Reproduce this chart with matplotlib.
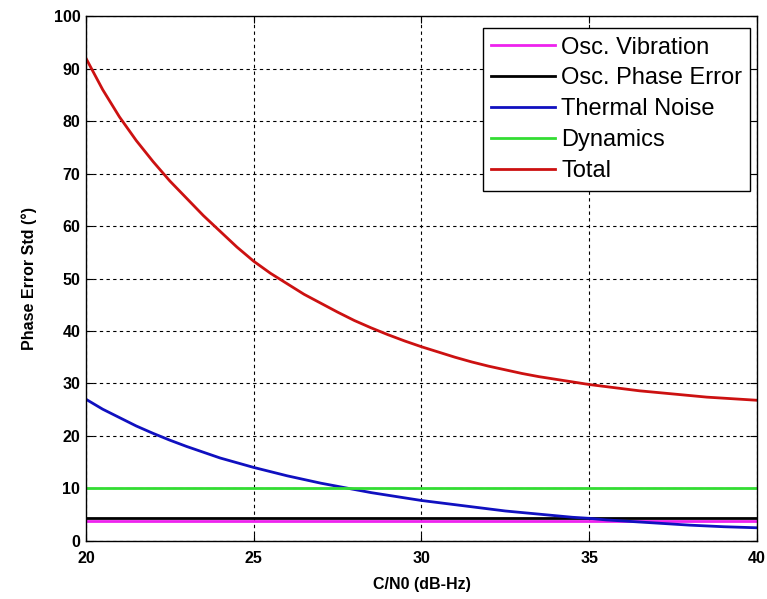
import matplotlib
matplotlib.use("Agg")
import matplotlib.pyplot as plt

# C/N0 values (dB-Hz), half-dB steps
cn0 = [20.0, 20.5, 21.0, 21.5, 22.0, 22.5, 23.0, 23.5, 24.0, 24.5, 25.0,
       25.5, 26.0, 26.5, 27.0, 27.5, 28.0, 28.5, 29.0, 29.5, 30.0,
       30.5, 31.0, 31.5, 32.0, 32.5, 33.0, 33.5, 34.0, 34.5, 35.0,
       35.5, 36.0, 36.5, 37.0, 37.5, 38.0, 38.5, 39.0, 39.5, 40.0]

# phase error std components (deg)
osc_vibration = [3.8] * len(cn0)
osc_phase_error = [4.3] * len(cn0)
thermal_noise = [27.0, 25.1, 23.5, 21.9, 20.5, 19.2, 18.0, 16.9, 15.8, 14.9, 14.0,
                 13.2, 12.4, 11.7, 11.0, 10.4, 9.8, 9.2, 8.7, 8.2, 7.7,
                 7.3, 6.9, 6.5, 6.1, 5.7, 5.4, 5.1, 4.8, 4.5, 4.3,
                 4.0, 3.8, 3.6, 3.4, 3.2, 3.0, 2.85, 2.7, 2.6, 2.5]
dynamics = [10.0] * len(cn0)
total = [92.0, 86.0, 80.8, 76.3, 72.3, 68.6, 65.3, 62.0, 59.0, 56.0, 53.3,
         51.0, 49.0, 47.0, 45.3, 43.6, 42.0, 40.6, 39.3, 38.1, 37.0,
         36.0, 35.0, 34.1, 33.3, 32.6, 31.9, 31.3, 30.8, 30.3, 29.8,
         29.4, 29.0, 28.6, 28.3, 28.0, 27.7, 27.4, 27.2, 27.0, 26.8]

series_labels = ["Osc. Vibration", "Osc. Phase Error", "Thermal Noise", "Dynamics", "Total"]
series_colors = ["#ee22ee", "#000000", "#1010c0", "#33dd33", "#cc1111"]

plt.rcParams["font.family"] = ["Liberation Sans", "DejaVu Sans"]

fig = plt.figure(figsize=(7.67, 5.99), dpi=100)
ax = fig.add_axes([0.112, 0.097, 0.875, 0.876])

for ys, lab, col in zip([osc_vibration, osc_phase_error, thermal_noise, dynamics, total],
                        series_labels, series_colors):
    ax.plot(cn0, ys, color=col, lw=2, label=lab)

ax.set_xlim(20, 40)
ax.set_ylim(0, 100)
ax.set_xticks([20, 25, 30, 35, 40])
ax.set_yticks(range(0, 101, 10))
ax.grid(True, color="black", linestyle=(0, (3, 3)), linewidth=0.8)
ax.tick_params(direction="in", top=True, right=True, length=5, labelsize=11.5)
ax.tick_params(axis="x", pad=7)
ax.tick_params(axis="y", pad=4)
for lbl in ax.get_xticklabels() + ax.get_yticklabels():
    lbl.set_fontweight("bold")
for s in ax.spines.values():
    s.set_linewidth(1.0)

ax.set_xlabel("C/N0 (dB-Hz)", fontsize=11.5, fontweight="bold", labelpad=8)
ax.set_ylabel("Phase Error Std (°)", fontsize=11.5, fontweight="bold", labelpad=12)

leg = ax.legend(loc="upper right", bbox_to_anchor=(0.99, 0.977), fontsize=17,
                fancybox=False, framealpha=1, edgecolor="black",
                handlelength=2.7, handletextpad=0.25, labelspacing=0.38,
                borderpad=0.35, borderaxespad=0)
leg.get_frame().set_linewidth(1.0)

fig.savefig("out.png", dpi=100)
